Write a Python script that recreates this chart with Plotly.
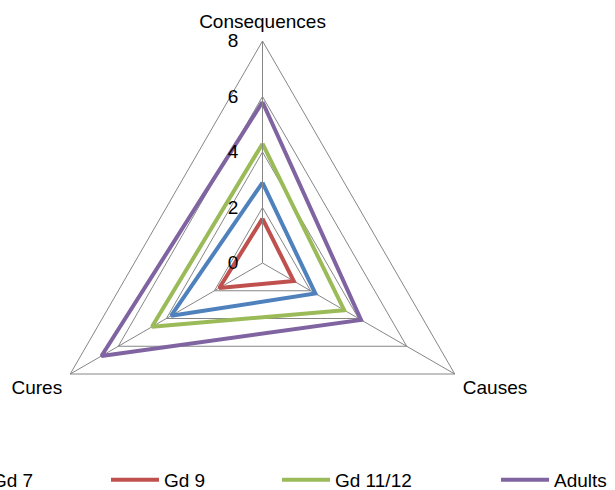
import plotly.graph_objects as go

categories = ["Consequences", "Causes", "Cures"]
series_names = ["Gd 7", "Gd 9", "Gd 11/12", "Adults"]
gd7 = [2.9, 2.2, 3.8]
gd9 = [1.6, 1.3, 1.8]
gd1112 = [4.3, 3.4, 4.6]
adults = [5.8, 4.1, 6.7]
radial_ticks = [0, 2, 4, 6, 8]

series_values = [gd7, gd9, gd1112, adults]
colors = ["#4F81BD", "#C0504D", "#9BBB59", "#8064A2"]
legend_ids = ["legend", "legend2", "legend3", "legend4"]
legend_x = [-60, 112, 283, 502]  # px of line start

W, H = 615, 490
FONT = "Liberation Sans"
GRID = "#868686"

fig = go.Figure()
for name, vals, col, lid in zip(series_names, series_values, colors, legend_ids):
    fig.add_trace(go.Scatterpolar(
        r=vals + vals[:1],
        theta=categories + categories[:1],
        mode="lines",
        name=name,
        line=dict(color=col, width=4),
        legend=lid,
    ))

cx, cy, R = 262.5, 263, 222
layout_legends = {}
for lid, px in zip(legend_ids, legend_x):
    layout_legends[lid] = dict(
        x=(px - 6) / W, xanchor="left", y=(H - 480) / H, yanchor="middle",
        orientation="h", itemwidth=48, bgcolor="rgba(0,0,0,0)",
        font=dict(family=FONT, size=19, color="#000000"),
        borderwidth=0,
    )

fig.update_layout(
    width=W, height=H,
    margin=dict(l=0, r=0, t=0, b=0, autoexpand=False),
    paper_bgcolor="white",
    showlegend=True,
    polar=dict(
        domain=dict(x=[(cx - R) / W, (cx + R) / W], y=[(H - cy - R) / H, (H - cy + R) / H]),
        gridshape="linear",
        bgcolor="white",
        radialaxis=dict(
            range=[0, 8], tickvals=radial_ticks, ticktext=[str(t) for t in radial_ticks],
            angle=90, side="counterclockwise", tickangle=90,
            showline=True, linecolor=GRID, linewidth=1,
            gridcolor=GRID, gridwidth=1,
            ticks="outside", ticklen=17, tickcolor="rgba(0,0,0,0)",
            tickfont=dict(family=FONT, size=19, color="#000000"),
        ),
        angularaxis=dict(
            direction="clockwise", rotation=90,
            showline=True, linecolor=GRID, linewidth=1,
            gridcolor=GRID, gridwidth=1,
            ticks="outside", ticklen=5, tickcolor="rgba(0,0,0,0)",
            tickfont=dict(family=FONT, size=19, color="#000000"),
        ),
    ),
    **layout_legends,
)

fig.write_html("out.html", config={"displayModeBar": False},
               post_script="document.body.style.margin='0';")
